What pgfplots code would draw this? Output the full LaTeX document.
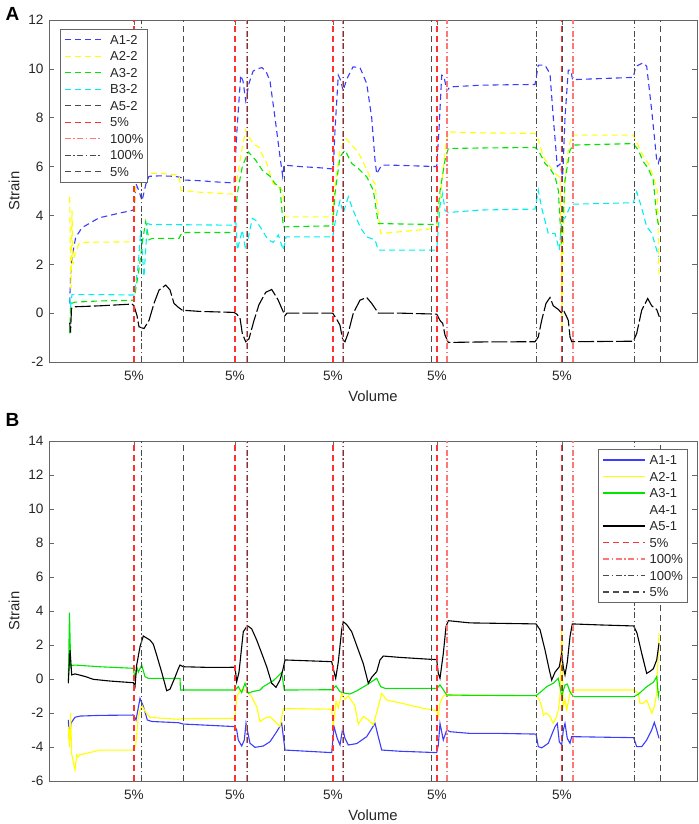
\documentclass[border=0pt]{standalone}
\usepackage{fontspec}
\setmainfont{Liberation Sans}
\usepackage{pgfplots}
\pgfplotsset{compat=1.18}
\definecolor{cblue}{RGB}{60,60,255}
\definecolor{cyel}{RGB}{255,255,0}
\definecolor{cgreen}{RGB}{0,230,0}
\definecolor{ccyan}{RGB}{0,240,240}
\definecolor{cred}{RGB}{255,50,50}
\definecolor{cpink}{RGB}{255,120,120}
\definecolor{cgray}{RGB}{75,75,75}
\tikzset{
  dsh/.style={dash pattern=on 6bp off 4bp},
  dshlong/.style={dash pattern=on 16bp off 3bp},
  dshdot/.style={dash pattern=on 6bp off 2.5bp on 1.5bp off 2.5bp},
  rl/.style={line width=1.6bp},
  gl/.style={line width=1bp},
}
\newcommand{\vl}[4]{\addplot[#1, forget plot] coordinates {(#2,#3) (#2,#4)};}
\pgfplotsset{
  panel/.style={
    scale only axis, width=648bp,
    xmin=49, xmax=697,
    xtick={134,235,333,437,562},
    xticklabels={5\%,5\%,5\%,5\%,5\%},
    tick align=inside, tick pos=both,
    major tick length=5bp,
    axis line style={draw=black!60, line width=0.6bp},
    every tick/.style={draw=black!60, line width=0.6bp},
    tick label style={font=\fontsize{13.6bp}{16bp}\selectfont, text=black!85},
    /pgf/number format/assume math mode=true,
    xticklabel style={yshift=-6bp},
    yticklabel style={xshift=-2bp},
    label style={font=\fontsize{14.8bp}{17bp}\selectfont, text=black!85},
    xlabel={Volume}, ylabel={Strain},
    xlabel style={at={(axis description cs:0.5,-0.1)}, anchor=center},
    ylabel style={at={(axis description cs:-0.054,0.5)}, anchor=center},
    legend cell align=left,
    every axis plot/.append style={line width=1.1bp},
  },
}
\begin{document}
\begin{tikzpicture}
\useasboundingbox (0,0) rectangle (699bp,824bp);
% ---------------- Panel A ----------------
\begin{axis}[panel,
  at={(49bp,462bp)}, anchor=south west, height=342bp,
  ymin=-2, ymax=12, ytick={-2,0,...,12},
  legend style={at={(axis description cs:0.017,0.974)}, anchor=north west,
    draw=black!60, line width=0.6bp, fill=white,
    font=\fontsize{13bp}{15bp}\selectfont, text=black!85,
    inner xsep=4bp, inner ysep=5.75bp, row sep=7bp,
    nodes={inner sep=0pt, text height=9.5bp, text depth=0bp},
    /tikz/every odd column/.append style={column sep=7.7bp}},
  legend image code/.code={\draw[#1, line width=1.2bp] (0bp,0bp) -- (37bp,0bp);},
]
\addplot[cblue, dsh] coordinates {
(69.7,0.4) (70.5,1.5) (72,2.3) (75.7,3.1) (82,3.5) (99,3.9) (120,4.1) (132,4.2) (134,4.25) (136,5.3) (139,5.0) (142,4.6) (146,5.3) (149,5.6) (160,5.62) (175,5.6) (181,5.55) (183,5.45) (200,5.42) (220,5.36) (234,5.33) (237,7.5) (240.7,9.74) (243,9.5) (245.7,8.7) (249,9.4) (253,9.9) (257,10.0) (262,10.05) (266,9.9) (270,9.5) (275,8.0) (280,6.4) (282.7,5.6) (284,6.06) (300,6.0) (320,5.95) (333.3,5.9) (335,7.5) (338.3,9.74) (341,9.5) (343,9.1) (347,9.6) (353,10.08) (360,10.05) (366.7,9.4) (371.7,8.0) (375,6.26) (376.7,5.7) (378,5.8) (381.7,6.06) (400,6.05) (420,6.02) (436.7,6.0) (439,7.5) (441.7,9.74) (444,9.7) (446.7,9.1) (450,9.26) (480,9.33) (510,9.35) (535,9.36) (538.3,10.15) (545,10.15) (550,9.8) (553.3,8.0) (557.3,6.0) (560,6.1) (562.7,5.6) (565,8.0) (568.3,9.95) (570.7,9.95) (572.7,9.54) (574,9.56) (600,9.6) (633.3,9.65) (635.7,10.1) (643.3,10.25) (646.7,10.1) (651.7,8.3) (656.7,6.26) (658.3,6.13) (660,6.4)};
\addlegendentry{A1-2}
\addplot[cyel, dsh] coordinates {
(69.7,4.76) (70.3,2.6) (71,1.0) (72,4.2) (73,2.0) (74,2.3) (76,2.5) (79,2.85) (85,2.9) (134,2.92) (135.5,5.5) (137,6.0) (140.7,5.3) (145.7,5.72) (160,5.72) (179,5.65) (181,5.03) (200,4.95) (234,4.87) (237,5.5) (241,6.5) (245.7,7.5) (249,7.2) (254,6.9) (259,6.8) (260,6.67) (266.7,6.14) (273,5.3) (278.3,5.17) (283,5.0) (285,3.94) (310,3.94) (332.7,3.94) (335,5.2) (340,6.67) (346,7.15) (353.3,6.8) (356.7,6.67) (362,6.3) (370,5.58) (375,5.3) (377,4.5) (380.7,3.26) (400,3.33) (436.7,3.47) (441.7,5.2) (445,6.67) (448.3,7.42) (480,7.38) (535,7.36) (538.3,7.1) (543.3,6.4) (550,6.0) (555,5.72) (560,5.55) (561.5,2.5) (562,-0.8) (563,2.5) (565,5.5) (568.3,6.67) (571.7,7.29) (633.3,7.29) (636.7,7.0) (641.7,6.54) (648.3,6.13) (653.3,5.58) (657.3,5.03) (658.3,3.0) (659,1.5)};
\addlegendentry{A2-2}
\addplot[cgreen, dsh] coordinates {
(69.7,-0.83) (70.5,0.2) (71.5,0.4) (75,0.45) (100,0.5) (134,0.53) (139,1.8) (142.7,3.0) (145.7,3.74) (149,3.0) (152,3.06) (179,3.06) (182,3.3) (234,3.3) (237.3,4.9) (242.3,6.0) (248.3,6.6) (255.7,6.26) (262.3,5.85) (270,5.6) (275,5.3) (280,5.17) (283.3,3.53) (300,3.55) (332.7,3.57) (335,4.9) (340,6.4) (345,6.67) (351.7,6.13) (358.3,5.92) (366.7,5.58) (373.3,5.03) (378.3,3.67) (400,3.65) (436.7,3.63) (440,5.0) (445,6.26) (448.3,6.74) (480,6.76) (535,6.78) (538.3,6.67) (545,6.13) (550,5.92) (555,5.6) (558.3,5.03) (561.7,2.58) (565,5.44) (570,6.67) (573.3,6.88) (633.3,6.94) (638.3,6.67) (643.3,6.2) (648.3,5.92) (653.3,5.44) (656.7,3.94) (658.7,3.6)};
\addlegendentry{A3-2}
\addplot[ccyan, dsh] coordinates {
(69.7,0.6) (70.5,0.2) (72,0.76) (100,0.76) (134,0.74) (135.7,1.23) (138.3,2.0) (140.7,3.4) (144,1.49) (147.3,3.67) (150.7,3.63) (234,3.6) (235.7,3.9) (237.3,2.58) (242.3,3.4) (245.7,2.58) (252.3,3.88) (255.7,3.8) (262.3,3.4) (265,3.2) (268.3,3.0) (273.3,2.9) (278.3,3.2) (283.3,2.58) (286,3.12) (332.7,3.12) (336,3.94) (340,4.6) (343.3,4.1) (348.3,4.76) (353.3,4.2) (360,3.53) (366.7,3.12) (375,3.0) (378.3,2.58) (436.7,2.58) (440,4.4) (442.7,4.9) (445,4.2) (448.3,4.12) (480,4.22) (535,4.26) (538.3,5.03) (541.7,4.3) (548.3,3.26) (555,3.26) (559.3,2.58) (561.7,3.8) (565,3.9) (570,4.35) (573.3,4.46) (633.3,4.52) (636.7,4.97) (641.7,4.3) (646.7,3.53) (651.7,3.28) (656.7,2.58) (658.6,2.3)};
\addlegendentry{B3-2}
\addplot[black, dshlong, forget plot] coordinates {
(69.7,-0.4) (70.5,-0.8) (71.5,0.2) (75,0.26) (100,0.3) (132,0.37) (134,0.3) (137,-0.1) (139,-0.56) (144,-0.63) (149,-0.3) (154,0.4) (159,0.94) (165.7,1.15) (170,0.95) (174,0.4) (178,0.25) (182.3,0.12) (200,0.07) (234,0.03) (237,-0.05) (240,-0.2) (242.3,-0.83) (245.7,-1.17) (249,-1.05) (254,-0.3) (259,0.35) (265.7,0.85) (271.7,0.97) (278,0.55) (283.3,0.05) (285,-0.1) (287,0.0) (332.7,0.0) (337.3,-0.29) (340,-0.5) (342.7,-1.1) (345,-1.17) (348.3,-0.8) (353.3,0.0) (360,0.53) (366.7,0.64) (371.7,0.4) (378.3,0.0) (400,0.0) (436.7,-0.04) (440,-0.3) (442.7,-0.42) (445,-0.9) (448.3,-1.2) (480,-1.18) (535,-1.17) (538.3,-0.97) (541.7,-0.29) (546,0.4) (550,0.64) (553.3,0.3) (558.3,0.15) (561.7,0.0) (564,0.07) (566.7,-0.15) (568.3,-0.3) (570,-0.97) (571.7,-1.17) (600,-1.16) (633.3,-1.15) (636.7,-0.83) (641.7,0.12) (647.7,0.6) (651.7,0.3) (656.7,0.15) (659.3,-0.15)};
\addlegendimage{cgray, dsh}
\addlegendentry{A5-2}
% vertical markers
\vl{cred, dsh, rl}{134}{-2}{12}
\vl{cred, dsh, rl}{235}{-2}{12}
\vl{cred, dsh, rl}{333}{-2}{12}
\vl{cred, dsh, rl}{437}{-2}{12}
\vl{cred, dsh, rl}{562}{-2}{12}
\vl{cpink, dshdot, rl}{141.5}{-2}{12}
\vl{cpink, dshdot, rl}{247}{-2}{12}
\vl{cpink, dshdot, rl}{343}{-2}{12}
\vl{cpink, dshdot, rl}{447}{-2}{12}
\vl{cpink, dshdot, rl}{573}{-2}{12}
\vl{cgray, dshdot, gl}{141.5}{-2}{12}
\vl{cgray, dshdot, gl}{247}{-2}{12}
\vl{cgray, dshdot, gl}{343}{-2}{12}
\vl{cgray, dshdot, gl}{536}{-2}{12}
\vl{cgray, dshdot, gl}{634}{-2}{12}
\vl{cgray, dsh, gl}{183}{-2}{12}
\vl{cgray, dsh, gl}{284}{-2}{12}
\vl{cgray, dsh, gl}{431}{-2}{12}
\vl{cgray, dsh, gl}{562}{-2}{12}
\vl{cgray, dsh, gl}{660}{-2}{12}
\addlegendimage{cred, dsh}
\addlegendentry{5\%}
\addlegendimage{cpink, dshdot}
\addlegendentry{100\%}
\addlegendimage{cgray, dshdot}
\addlegendentry{100\%}
\addlegendimage{cgray, dsh}
\addlegendentry{5\%}
\node[anchor=south west, inner sep=0pt, font=\fontsize{13bp}{15bp}\selectfont, text=black!85] at (axis description cs:0.002,1.01) {×10\textsuperscript{-3}};
\end{axis}
% ---------------- Panel B ----------------
\begin{axis}[panel,
  at={(49bp,43bp)}, anchor=south west, height=340bp,
  ymin=-6, ymax=14, ytick={-6,-4,...,14},
  legend style={at={(axis description cs:0.985,0.976)}, anchor=north east,
    draw=black!60, line width=0.6bp, fill=white,
    font=\fontsize{13bp}{15bp}\selectfont, text=black!85,
    inner xsep=4bp, inner ysep=5.75bp, row sep=7bp,
    nodes={inner sep=0pt, text height=9.5bp, text depth=0bp},
    /tikz/every odd column/.append style={column sep=4.3bp}},
  legend image code/.code={\draw[#1, line width=1.2bp] (0bp,0bp) -- (41.7bp,0bp);},
]
\addplot[cblue] coordinates {
(68.3,-2.41) (69.5,-3.5) (71,-2.6) (75,-2.25) (80,-2.18) (100,-2.14) (133.3,-2.12) (136,-2.41) (140,-1.14) (143.3,-1.6) (147.3,-2.41) (152,-2.5) (178.3,-2.57) (183.3,-2.65) (235,-2.8) (236.7,-3.0) (238.3,-3.59) (241.7,-3.94) (244.3,-3.59) (246,-2.61) (247.3,-3.0) (250,-3.78) (255,-4.02) (263.3,-3.94) (270,-3.69) (276.7,-3.1) (281.7,-2.61) (285,-4.18) (331.7,-4.33) (334,-2.8) (337.3,-3.5) (340,-3.88) (342.7,-2.9) (345,-3.5) (348.3,-3.88) (356.7,-3.8) (366.7,-3.39) (375,-2.61) (378.3,-3.4) (381.7,-4.18) (400,-4.25) (436.7,-4.33) (438.3,-3.9) (440,-2.61) (443.3,-3.59) (446.7,-3.0) (450,-3.1) (470,-3.2) (500,-3.2) (536,-3.24) (538.3,-3.98) (541.7,-4.05) (548.3,-3.78) (555,-2.8) (557.3,-2.61) (559.3,-3.7) (561.7,-3.88) (563.3,-3.0) (565,-2.61) (567.3,-3.5) (570,-3.78) (571.7,-3.39) (600,-3.42) (633.7,-3.45) (636.7,-3.98) (641.7,-3.98) (646.7,-3.59) (651.7,-3.0) (654.3,-2.55) (656.7,-3.0) (659,-3.49)};
\addlegendentry{A1-1}
\addplot[cyel] coordinates {
(68.3,-2.8) (69.5,-4.0) (70.5,-2.0) (71.7,-4.4) (75,-5.35) (76.7,-4.47) (78,-4.6) (80,-4.45) (86.7,-4.37) (100,-4.18) (133.3,-4.18) (135.7,-3.9) (138.3,-2.2) (141.7,-1.53) (145,-1.9) (150,-2.26) (178.3,-2.37) (183.3,-2.33) (235,-2.31) (236.7,-1.04) (240,-0.7) (242.7,-0.6) (246.7,-0.7) (251.7,-1.04) (256.7,-1.63) (260,-2.51) (265,-2.3) (270,-2.22) (275,-2.5) (280,-2.8) (283.3,-1.73) (331.7,-1.78) (333.3,-2.8) (336,-1.3) (338.3,-1.7) (341.7,-0.84) (345,-1.2) (348.3,-1.0) (353.3,-1.43) (355,-1.63) (358.3,-2.65) (363.3,-2.2) (368.3,-2.4) (373.3,-2.7) (378.3,-1.63) (381.7,-0.84) (386.7,-1.24) (403.3,-1.45) (423.3,-1.73) (436.7,-1.86) (438.3,-2.2) (440,-1.4) (443.3,-1.0) (446.7,-0.94) (470,-0.95) (536,-0.98) (539.3,-1.2) (541.7,-1.63) (543.3,-2.12) (546,-2.0) (550,-2.2) (553.3,-2.61) (556.7,-2.2) (558.3,-1.82) (560,-1.0) (561.7,3.0) (563.3,-1.63) (565,-1.24) (566.7,-1.82) (570,-0.84) (572.7,-0.65) (633.7,-0.65) (638.3,-0.84) (640,-1.43) (643.3,-1.43) (646.7,-1.24) (649.3,-1.63) (651.7,-2.02) (654.3,-1.63) (656.7,-0.84) (659,2.69)};
\addlegendentry{A2-1}
\addplot[cgreen] coordinates {
(68.3,-0.2) (69.5,3.9) (70.7,0.72) (72,0.8) (75,0.82) (100,0.72) (133.3,0.63) (135,0.0) (136.7,0.72) (138.3,0.4) (141.7,0.82) (145,0.14) (148.3,0.04) (180,0.04) (180.5,-0.65) (235,-0.65) (238.3,-0.45) (241.7,-0.8) (245,-0.25) (248.3,-0.84) (252,-0.75) (260,-0.65) (263.3,-0.45) (273.3,-0.1) (281.7,0.38) (284.3,-0.65) (331.7,-0.63) (336,-0.41) (340,-0.75) (345,-0.84) (350,-0.88) (356.7,-0.7) (366.7,-0.35) (376.7,0.04) (380.7,-0.45) (385,-0.55) (436.7,-0.55) (440,-0.35) (443,-0.6) (446.7,-0.94) (470,-0.96) (536,-0.98) (540,-0.8) (546.7,-0.45) (553.3,-0.25) (558.3,0.04) (560,-0.45) (561.7,-1.0) (565,-0.35) (567.3,-0.3) (570,-0.75) (573.3,-1.04) (633.7,-1.04) (638.3,-0.9) (646.7,-0.45) (653.3,-0.2) (656.7,0.14) (658.3,-0.98) (659,-0.7)};
\addlegendentry{A3-1}
\addlegendimage{white}
\addlegendentry{A4-1}
\addplot[black] coordinates {
(68.3,-0.25) (70,1.71) (71.7,0.24) (75,0.3) (85,0.15) (93.3,-0.02) (110,-0.12) (133.3,-0.22) (135,-0.45) (136.7,0.82) (140,1.9) (143.3,2.53) (150,2.29) (153.3,2.05) (156.7,1.4) (161.7,0.4) (166.7,-0.69) (170,-0.6) (175,0.1) (178.3,0.6) (180,0.82) (183.3,0.72) (210,0.68) (235,0.69) (236.7,-0.16) (239,0.4) (241.7,1.9) (243.3,2.78) (246.7,3.08) (248.3,3.1) (251.7,2.95) (256.7,2.29) (261.7,1.51) (266.7,0.72) (271.7,-0.25) (276,-0.49) (280,-0.06) (282.7,0.5) (285,1.12) (331.7,1.02) (333.3,0.6) (335.7,0.04) (338.3,1.0) (341.7,2.9) (343.3,3.37) (346.7,3.2) (351.7,2.78) (358.3,1.71) (363.3,0.9) (368.3,-0.25) (371.7,0.1) (376.7,0.43) (380,1.12) (383.3,1.35) (400,1.27) (430,1.16) (436.7,1.14) (438.3,0.33) (440,0.04) (443.3,1.5) (446,3.08) (448.3,3.43) (470,3.3) (536,3.24) (540,2.9) (545,1.71) (549.3,0.53) (551.7,-0.06) (555,0.4) (559.3,0.72) (561.7,1.51) (563.3,0.7) (565,0.24) (567.3,1.0) (570,2.49) (572.3,3.24) (600,3.18) (633.7,3.12) (637,2.7) (641.7,1.51) (646.7,0.33) (650,0.45) (653.3,0.6) (656.7,1.12) (659,2.1)};
\addlegendentry{A5-1}
% vertical markers
\vl{cred, dsh, rl}{134}{-6}{14}
\vl{cred, dsh, rl}{235}{-6}{14}
\vl{cred, dsh, rl}{333}{-6}{14}
\vl{cred, dsh, rl}{437}{-6}{14}
\vl{cred, dsh, rl}{562}{-6}{14}
\vl{cpink, dshdot, rl}{141.5}{-6}{14}
\vl{cpink, dshdot, rl}{247}{-6}{14}
\vl{cpink, dshdot, rl}{343}{-6}{14}
\vl{cpink, dshdot, rl}{447}{-6}{14}
\vl{cpink, dshdot, rl}{573}{-6}{14}
\vl{cgray, dshdot, gl}{141.5}{-6}{14}
\vl{cgray, dshdot, gl}{247}{-6}{14}
\vl{cgray, dshdot, gl}{343}{-6}{14}
\vl{cgray, dshdot, gl}{536}{-6}{14}
\vl{cgray, dshdot, gl}{634}{-6}{14}
\vl{cgray, dsh, gl}{183}{-6}{14}
\vl{cgray, dsh, gl}{284}{-6}{14}
\vl{cgray, dsh, gl}{431}{-6}{14}
\vl{cgray, dsh, gl}{562}{-6}{14}
\vl{cgray, dsh, gl}{660}{-6}{14}
\addlegendimage{cred, dsh}
\addlegendentry{5\%}
\addlegendimage{cpink, dshdot}
\addlegendentry{100\%}
\addlegendimage{cgray, dshdot}
\addlegendentry{100\%}
\addlegendimage{cgray, dsh}
\addlegendentry{5\%}
\node[anchor=south west, inner sep=0pt, font=\fontsize{13bp}{15bp}\selectfont, text=black!85] at (axis description cs:0.002,1.01) {×10\textsuperscript{-3}};
\end{axis}
\node[font=\bfseries\fontsize{19bp}{21bp}\selectfont] at (12.5bp,810bp) {A};
\node[font=\bfseries\fontsize{19bp}{21bp}\selectfont] at (12.5bp,404bp) {B};
\end{tikzpicture}
\end{document}
